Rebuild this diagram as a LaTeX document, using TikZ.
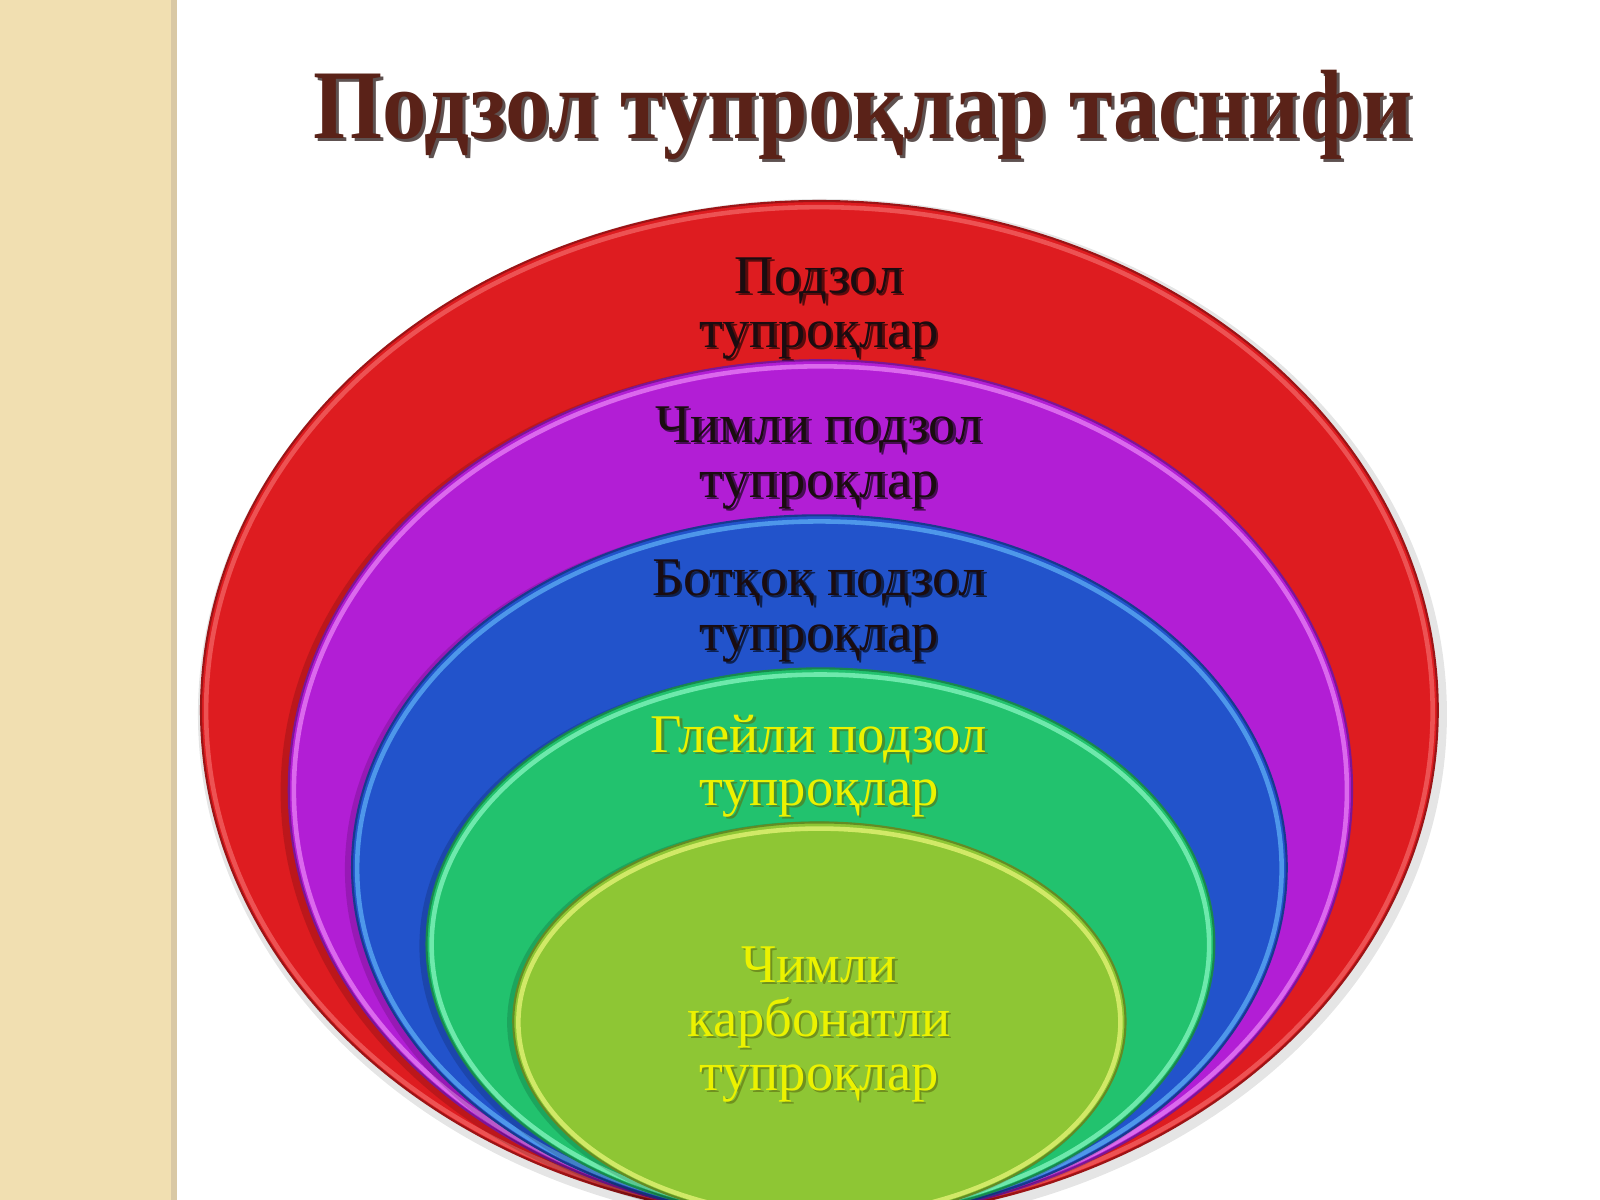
\documentclass[tikz,border=0pt]{standalone}
\usepackage{fontspec}
\setmainfont{Liberation Serif}
\definecolor{beige}{HTML}{F1DFB1}
\definecolor{beigeedge}{HTML}{D9C8A4}
\definecolor{cred}{HTML}{DE1C20}
\definecolor{credrim}{HTML}{F46A6A}
\definecolor{cpur}{HTML}{B21ED5}
\definecolor{cpurrim}{HTML}{E67CF4}
\definecolor{cblue}{HTML}{2253CB}
\definecolor{cbluerim}{HTML}{5AA8F2}
\definecolor{cgreen}{HTML}{22C26E}
\definecolor{cgreenrim}{HTML}{7CF0B8}
\definecolor{clime}{HTML}{8EC634}
\definecolor{climerim}{HTML}{DDF070}
\definecolor{titlecol}{HTML}{5A2218}
\definecolor{titleshadow}{HTML}{1A0806}
\definecolor{darktext}{HTML}{1A0C10}
\definecolor{yeltext}{HTML}{ECF200}
\definecolor{yelshadow}{HTML}{5C6E10}
\newcommand\titletext{\fontsize{28}{30}\selectfont\bfseries Подзол тупроқлар таснифи}
\newlength\titlewd
\settowidth\titlewd{\titletext}
\newcommand\labelfont{\fontsize{15.5}{16}\selectfont}
\newcommand\sline[6]{%
  \node[anchor=base, text=#6, opacity=0.6, font=\labelfont] (#1s) at ([shift={(2.5,2.5)}]#2,#3) {#4};
  \node[anchor=base, text=#5, font=\labelfont] (#1) at (#2,#3) {#4};}
\begin{document}
\begin{tikzpicture}[x=0.01cm,y=-0.01cm,
  layer/.style={line width=0.6pt},
  rim/.style={line width=1.3pt}]
\useasboundingbox (0,0) rectangle (1600,1200);
\clip (0,0) rectangle (1600,1200);
\fill[white] (0,0) rectangle (1600,1200);
\fill[beige] (0,0) rectangle (171,1200);
\fill[beigeedge] (171,0) rectangle (177,1200);
\begin{scope}[scale=1.0204]
% soft shadow
\fill[black, opacity=0.10] (806,700) ellipse [x radius=612, y radius=505];
% layers
\fill[cred] (803,696) ellipse [x radius=606, y radius=499];
\draw[cred!70!black, layer] (803,696) ellipse [x radius=606, y radius=499];
\draw[credrim, rim, opacity=0.7] (803,697) ellipse [x radius=601, y radius=494];

\fill[black, opacity=0.15] (799,776) ellipse [x radius=524, y radius=423];
\fill[cpur] (804,774) ellipse [x radius=521, y radius=421];
\draw[cpur!70!black, layer] (804,774) ellipse [x radius=521, y radius=421];
\draw[cpurrim, rim, opacity=0.8] (804,775) ellipse [x radius=516, y radius=416];

\fill[black, opacity=0.15] (799,852) ellipse [x radius=461, y radius=347];
\fill[cblue] (803,850) ellipse [x radius=458, y radius=345];
\draw[cblue!70!black, layer] (803,850) ellipse [x radius=458, y radius=345];
\draw[cbluerim, rim, opacity=0.8] (803,851) ellipse [x radius=453, y radius=340];

\fill[black, opacity=0.15] (800,927) ellipse [x radius=389, y radius=272];
\fill[cgreen] (804,925) ellipse [x radius=386, y radius=270];
\draw[cgreen!70!black, layer] (804,925) ellipse [x radius=386, y radius=270];
\draw[cgreenrim, rim, opacity=0.85] (804,926) ellipse [x radius=381, y radius=265];

\fill[black, opacity=0.15] (800,1002) ellipse [x radius=303, y radius=197];
\fill[clime] (803,1001) ellipse [x radius=300, y radius=195];
\draw[clime!70!black, layer] (803,1001) ellipse [x radius=300, y radius=195];
\draw[climerim, rim, opacity=0.85] (803,1002) ellipse [x radius=295, y radius=190];
\end{scope}

% title
\pgfmathsetmacro\tsx{312.7/\titlewd}
\node[anchor=base, text=titleshadow, opacity=0.7, inner sep=0] (titles) at (866,141) {\scalebox{\tsx}[1]{\titletext}};
\node[anchor=base, text=titlecol, inner sep=0] (title) at (863,138) {\scalebox{\tsx}[1]{\titletext}};

% labels
\sline{a1}{819}{293}{Подзол}{darktext}{black}
\sline{a2}{819}{347}{тупроқлар}{darktext}{black}
\sline{b1}{819}{442}{Чимли подзол}{darktext}{black}
\sline{b2}{819}{497}{тупроқлар}{darktext}{black}
\sline{c1}{819}{595}{Ботқоқ подзол}{darktext}{black}
\sline{c2}{819}{650}{тупроқлар}{darktext}{black}
\sline{d1}{819}{752}{Глейли подзол}{yeltext}{yelshadow}
\sline{d2}{819}{805}{тупроқлар}{yeltext}{yelshadow}
\sline{e1}{819}{982}{Чимли}{yeltext}{yelshadow}
\sline{e2}{819}{1036}{карбонатли}{yeltext}{yelshadow}
\sline{e3}{819}{1090}{тупроқлар}{yeltext}{yelshadow}
\end{tikzpicture}
\end{document}
